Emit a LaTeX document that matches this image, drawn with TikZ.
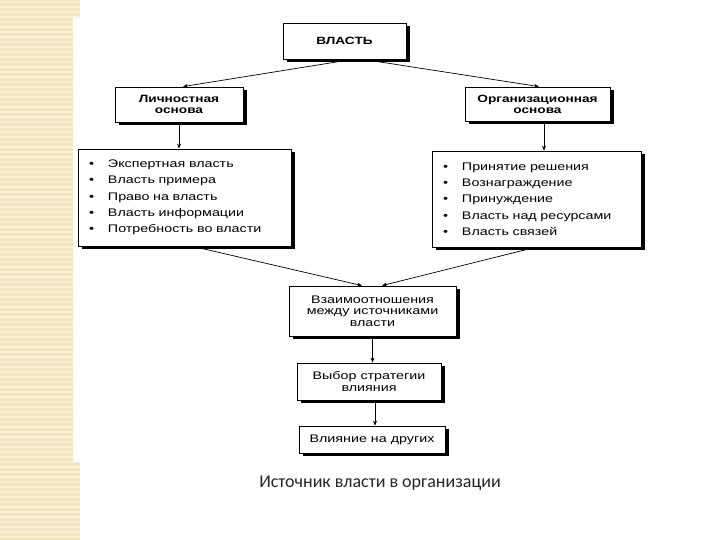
\documentclass[tikz,border=0pt]{standalone}
\usepackage{fontspec}
\setmainfont{Liberation Sans}[FakeStretch=1.3]
\newfontfamily\capfont{Carlito}
\usetikzlibrary{shadows,arrows.meta}
\definecolor{beige}{RGB}{242,228,188}
\definecolor{beigelt}{RGB}{249,241,216}
\begin{document}
\begin{tikzpicture}[x=1pt,y=-1pt,
  box/.style={draw=black, line width=0.8pt, fill=white,
    drop shadow={shadow xshift=4pt, shadow yshift=-3pt, fill=black, opacity=1},
    inner sep=0pt, align=center},
  head/.style={font=\fontsize{10.5}{11}\selectfont\bfseries},
  plain/.style={font=\fontsize{11}{11.5}\selectfont},
  listbox/.style={box, align=left, inner xsep=11pt, font=\fontsize{11}{16.3}\selectfont},
  arr/.style={-{Stealth[length=5pt,width=4pt]}, line width=0.7pt},
  ]
\useasboundingbox (0,0) rectangle (720,540);
\fill[white] (0,0) rectangle (720,540);
\fill[beige] (0,0) rectangle (80,540);
\foreach \yy in {2,7,...,540} \draw[beigelt, line width=1.2pt] (0,\yy) -- (80,\yy);
\fill[white] (73,18) rectangle (80,462);

\node[box, head, minimum width=123pt, minimum height=36pt] (vl) at (344.5,41) {ВЛАСТЬ};
\node[box, head, minimum width=128pt, minimum height=35pt] (lich) at (179,104.5) {Личностная\\основа};
\node[box, head, minimum width=145pt, minimum height=34pt] (org) at (537.5,104) {Организационная\\основа};

\node[listbox, text width=191pt, minimum height=97pt] (llist) at (184.5,197.5) {%
\makebox[19pt][l]{•}Экспертная власть\\
\makebox[19pt][l]{•}Власть примера\\
\makebox[19pt][l]{•}Право на власть\\
\makebox[19pt][l]{•}Власть информации\\
\makebox[19pt][l]{•}Потребность во власти};
\node[listbox, text width=187pt, minimum height=96pt] (rlist) at (536.5,199) {%
\makebox[19pt][l]{•}Принятие решения\\
\makebox[19pt][l]{•}Вознаграждение\\
\makebox[19pt][l]{•}Принуждение\\
\makebox[19pt][l]{•}Власть над ресурсами\\
\makebox[19pt][l]{•}Власть связей};

\node[box, plain, minimum width=167pt, minimum height=50pt] (rel) at (372.5,311) {Взаимоотношения\\между источниками\\власти};
\node[box, plain, minimum width=144pt, minimum height=37pt] (vyb) at (369,381.5) {Выбор стратегии\\влияния};
\node[box, plain, minimum width=146pt, minimum height=27pt] (vli) at (372,439.5) {Влияние на других};

\node[font=\capfont\fontsize{18}{20}\selectfont, text=black!85] (cap) at (380,483) {Источник власти в организации};

\draw[arr] ([xshift=8pt]vl.south) -- ([xshift=4pt]lich.north);
\draw[arr] ([xshift=19pt]vl.south) -- ([xshift=1.5pt]org.north);
\draw[arr] (lich.south) -- (lich.south |- llist.north);
\draw[arr] ([xshift=6.5pt]org.south) -- ([xshift=6.5pt]org.south |- rlist.north);
\draw[arr] ([xshift=8.5pt]llist.south) -- ([xshift=-10.5pt]rel.north);
\draw[arr] ([xshift=-1.5pt]rlist.south) -- ([xshift=9.5pt]rel.north);
\draw[arr] (rel.south) -- (rel.south |- vyb.north);
\draw[arr] ([xshift=6pt]vyb.south) -- ([xshift=6pt]vyb.south |- vli.north);
\end{tikzpicture}
\end{document}
